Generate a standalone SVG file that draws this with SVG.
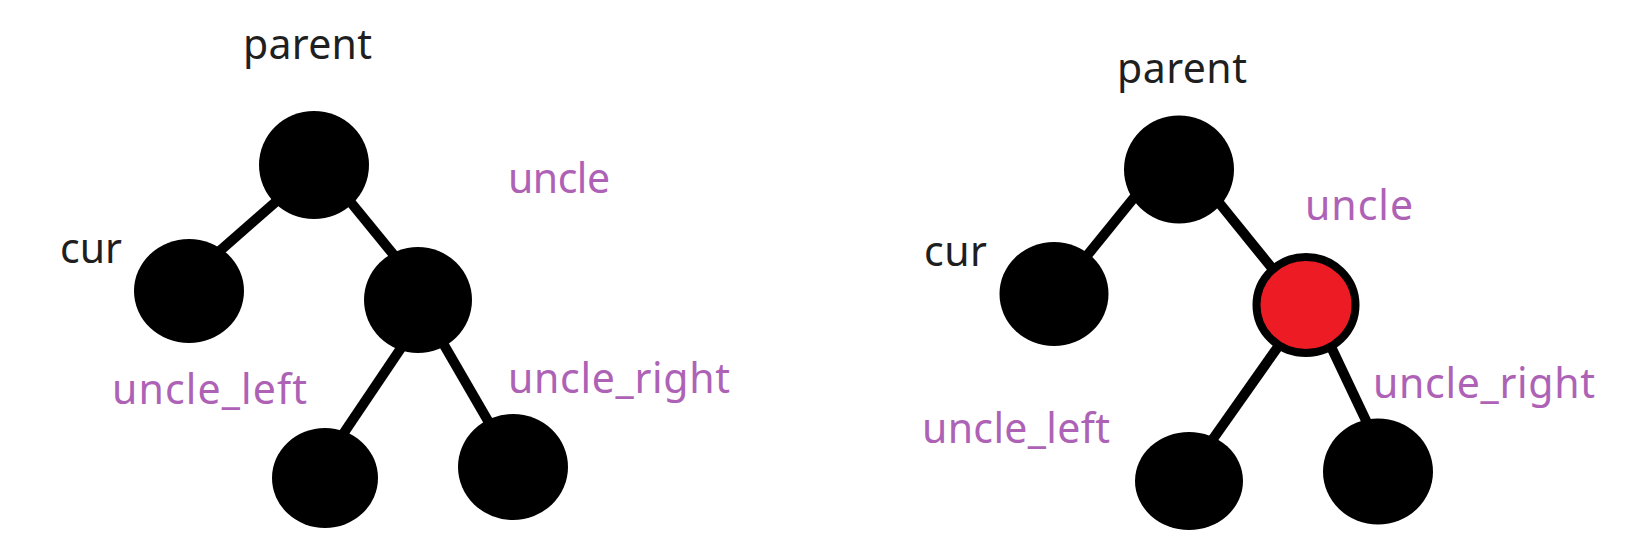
<svg xmlns="http://www.w3.org/2000/svg" width="1652" height="540" viewBox="0 0 1652 540">
  <style>
    .node { fill: #000; }
    .red { fill: #ED1C24; stroke: #000; stroke-width: 8; }
    .edge { stroke: #000; stroke-width: 10; stroke-linecap: butt; fill: none; }
    .lbl { font-family: "Noto Sans", "Open Sans", sans-serif; font-size: 41px; fill: #1f1f1f; }
    .plbl { font-family: "Noto Sans", "Open Sans", sans-serif; font-size: 41px; fill: #AE62B6; }
  </style>
  <rect width="1652" height="540" fill="#fff"/>
  <g id="connectors">
    <line class="edge" x1="282.5" y1="195.9" x2="214.5" y2="255.6"/>
    <line class="edge" x1="344.7" y1="194.8" x2="398.3" y2="260.5"/>
    <line class="edge" x1="405.6" y1="341.3" x2="338.4" y2="441"/>
    <line class="edge" x1="439.7" y1="337.4" x2="492" y2="427.7"/>
    <line class="edge" x1="1139.3" y1="191.2" x2="1081.7" y2="262.2"/>
    <line class="edge" x1="1213.7" y1="196.2" x2="1277" y2="274.3"/>
    <line class="edge" x1="1281.8" y1="341.4" x2="1206.7" y2="447.8"/>
    <line class="edge" x1="1329.7" y1="344" x2="1370.3" y2="429.6"/>
  </g>
  <g id="left-parent">
    <ellipse class="node" cx="314" cy="165" rx="55" ry="54"/>
    <text class="lbl" x="243" y="59" textLength="129">parent</text>
  </g>
  <g id="left-cur">
    <ellipse class="node" cx="189" cy="291" rx="55" ry="52"/>
    <text class="lbl" x="60" y="263" textLength="62">cur</text>
  </g>
  <g id="left-uncle">
    <ellipse class="node" cx="418" cy="300" rx="54" ry="53"/>
    <text class="plbl" x="508" y="193" textLength="102">uncle</text>
  </g>
  <g id="left-uncle-left">
    <ellipse class="node" cx="325" cy="478" rx="53" ry="50"/>
    <text class="plbl" x="112" y="404" textLength="195">uncle_left</text>
  </g>
  <g id="left-uncle-right">
    <ellipse class="node" cx="513" cy="467" rx="55" ry="53"/>
    <text class="plbl" x="508" y="393" textLength="222">uncle_right</text>
  </g>
  <g id="right-parent">
    <ellipse class="node" cx="1179" cy="169.5" rx="55" ry="54"/>
    <text class="lbl" x="1117" y="82.5" textLength="130">parent</text>
  </g>
  <g id="right-cur">
    <ellipse class="node" cx="1054" cy="294" rx="54.5" ry="52"/>
    <text class="lbl" x="924" y="266" textLength="63">cur</text>
  </g>
  <g id="right-uncle">
    <ellipse class="red" cx="1306" cy="305" rx="49.5" ry="48"/>
    <text class="plbl" x="1305" y="219.5" textLength="108">uncle</text>
  </g>
  <g id="right-uncle-left">
    <ellipse class="node" cx="1189" cy="481" rx="54" ry="49"/>
    <text class="plbl" x="922" y="442.5" textLength="188">uncle_left</text>
  </g>
  <g id="right-uncle-right">
    <ellipse class="node" cx="1378" cy="471.5" rx="55" ry="53"/>
    <text class="plbl" x="1373" y="398" textLength="222">uncle_right</text>
  </g>
</svg>
